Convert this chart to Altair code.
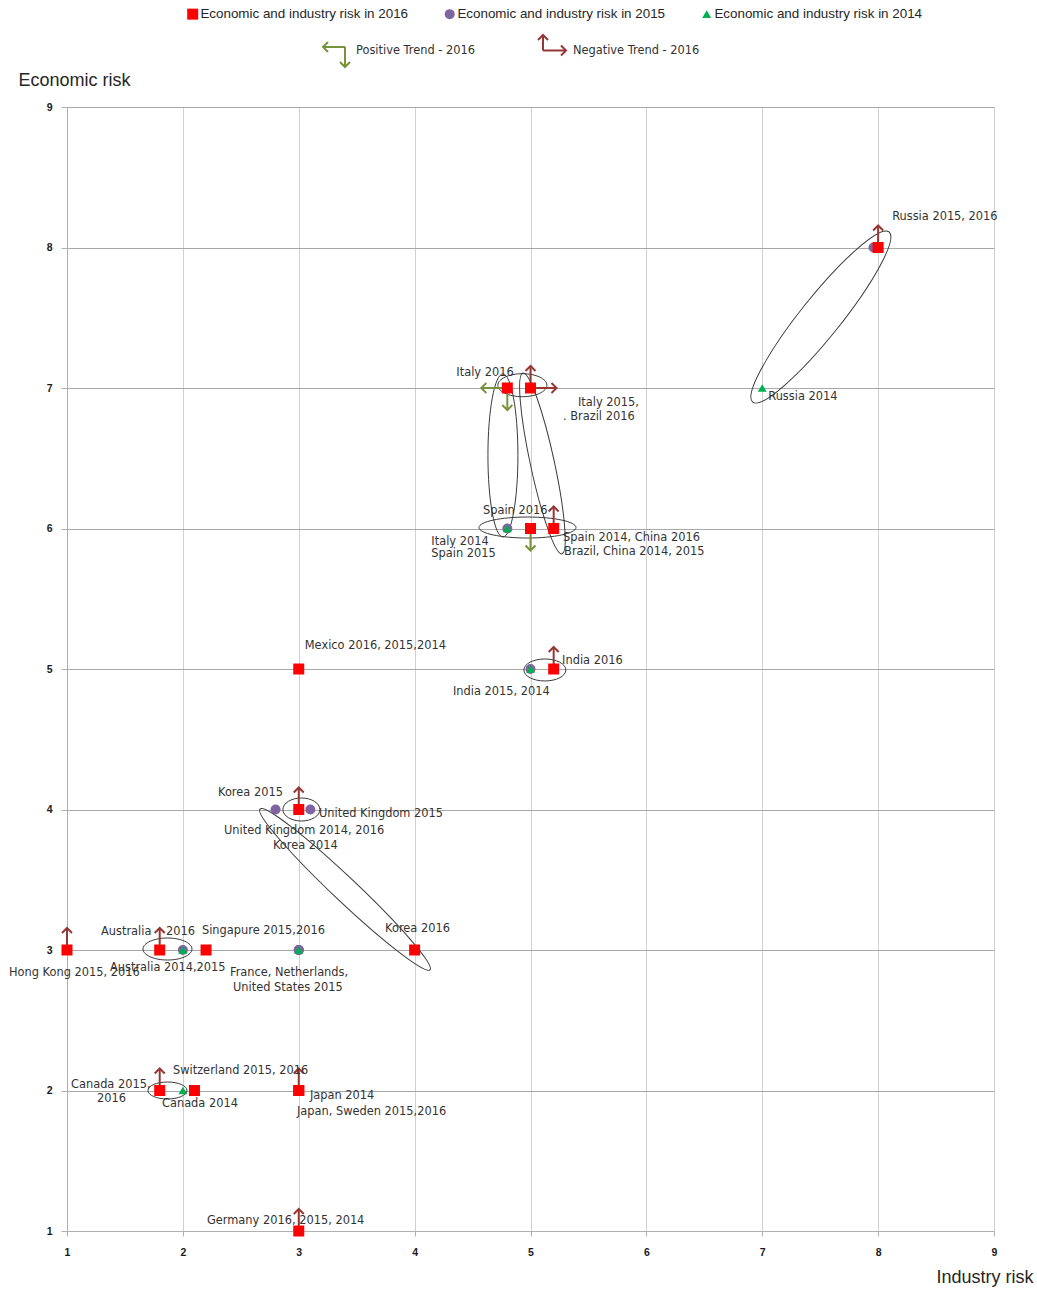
import altair as alt
import pandas as pd

# ---------------- data ----------------
S16 = "Economic and industry risk in 2016"
S15 = "Economic and industry risk in 2015"
S14 = "Economic and industry risk in 2014"

# (country, industry risk, economic risk)
risk_2016 = [
    ("Russia", 8, 8), ("Italy", 4.8, 7), ("Brazil", 5, 7), ("Spain", 5, 6),
    ("China", 5.2, 6), ("Mexico", 3, 5), ("India", 5.2, 5), ("United Kingdom", 3, 4),
    ("Korea", 4, 3), ("Hong Kong", 1, 3), ("Australia", 1.8, 3), ("Singapure", 2.2, 3),
    ("Canada", 1.8, 2), ("Switzerland", 2.1, 2), ("Japan", 3, 2), ("Sweden", 3, 2),
    ("Germany", 3, 1),
]
risk_2015 = [
    ("Russia", 7.96, 8), ("Italy", 5, 7), ("Brazil", 5.2, 6), ("China", 5.2, 6),
    ("Spain", 4.8, 6), ("Mexico", 3, 5), ("India", 5, 5), ("Korea", 2.8, 4),
    ("United Kingdom", 3.1, 4), ("France", 3, 3), ("Netherlands", 3, 3),
    ("United States", 3, 3), ("Hong Kong", 1, 3), ("Australia", 2, 3),
    ("Singapure", 2.2, 3), ("Canada", 1.8, 2), ("Switzerland", 2.1, 2),
    ("Japan", 3, 2), ("Sweden", 3, 2), ("Germany", 3, 1),
]
risk_2014 = [
    ("Russia", 7, 7), ("Italy", 4.8, 6), ("Spain", 5.2, 6), ("Brazil", 5.2, 6),
    ("China", 5.2, 6), ("Mexico", 3, 5), ("India", 5, 5), ("United Kingdom", 3, 4),
    ("Korea", 3, 4), ("France", 3, 3), ("Australia", 2, 3), ("Canada", 2, 2),
    ("Japan", 3, 2), ("Germany", 3, 1),
]

# trend arrows for 2016: (x, y, direction, kind)
trend_arrows = [
    (8, 8, "up", "neg"), (5, 7, "up", "neg"), (5, 7, "right", "neg"),
    (5.2, 6, "up", "neg"), (5.2, 5, "up", "neg"), (3, 4, "up", "neg"),
    (1, 3, "up", "neg"), (1.8, 3, "up", "neg"), (1.8, 2, "up", "neg"),
    (3, 2, "up", "neg"), (3, 1, "up", "neg"),
    (4.8, 7, "left", "pos"), (4.8, 7, "down", "pos"), (5, 6, "down", "pos"),
]

# point labels: (text, anchor x, anchor y)
label_text = [
    ("Russia 2015, 2016", 8, 8), ("Russia 2014", 7, 7), ("Italy 2016", 4.8, 7),
    ("Italy 2015,", 5, 7), (". Brazil 2016", 5, 7), ("Spain 2016", 5, 6),
    ("Italy 2014", 4.8, 6), ("Spain 2015", 4.8, 6), ("Spain 2014, China 2016", 5.2, 6),
    ("Brazil, China 2014, 2015", 5.2, 6), ("Mexico 2016, 2015,2014", 3, 5),
    ("India 2016", 5.2, 5), ("India 2015, 2014", 5, 5), ("Korea 2015", 2.8, 4),
    ("United Kingdom 2015", 3.1, 4), ("United Kingdom 2014, 2016", 3, 4),
    ("Korea 2014", 3, 4), ("Korea 2016", 4, 3), ("Australia", 1.8, 3), ("2016", 1.8, 3),
    ("Singapure 2015,2016", 2.2, 3), ("Hong Kong 2015, 2016", 1, 3),
    ("Australia 2014,2015", 2, 3), ("France, Netherlands,", 3, 3),
    ("United States 2015", 3, 3), ("Canada 2015,", 1.8, 2), ("2016", 1.8, 2),
    ("Switzerland 2015, 2016", 2.1, 2), ("Canada 2014", 2, 2), ("Japan 2014", 3, 2),
    ("Japan, Sweden 2015,2016", 3, 2), ("Germany 2016, 2015, 2014", 3, 1),
]

# ---------------- layout / style (pixels) ----------------
W, H = 927, 1124
PXX, PXY = W / 8.0, H / 8.0
label_offsets = [
    (14, -30.5), (6, 9), (-51, -15), (47.5, 15), (32.5, 29), (-47.5, -17.5),
    (-76, 13.5), (-76, 25.5), (9.4, 9.5), (10.4, 23.5), (6, -23), (8.4, -8),
    (-77.5, 23), (-57.6, -16.5), (8.7, 4.5), (-74.8, 21.5), (-25.8, 36.5),
    (-29.6, -21), (-58.7, -18), (6.3, -18), (-4.1, -19), (-58, 23), (-72.9, 18),
    (-68.8, 23), (-65.8, 38), (-88.7, -5.5), (-62.7, 8.5), (-21.5, -19.5),
    (-20.9, 13.5), (11.2, 5.5), (-1.8, 21.5), (-91.8, -10),
]
# grouping ellipses: centre (data), semi-axes a, b (px), rotation (deg)
ellipses = [
    (7.506, 7.505, 109, 20, 308.7),
    (4.93, 7.02, 24.5, 11.5, 0),
    (4.762, 6.52, 81.5, 15, 90),
    (5.103, 6.463, 92.5, 12, 77.8),
    (4.974, 6.007, 48.5, 10.5, 0),
    (5.124, 4.993, 21, 11, 0),
    (3.023, 4.0, 18.5, 11.5, 0),
    (3.399, 3.431, 117, 12, 43.4),
    (1.867, 3.007, 24.5, 11, 0),
    (1.867, 2.0, 19.5, 8.5, 0),
]

NEG = "#953735"
POS = "#77933c"
TXT = "#333333"
LBL_FONT = "DejaVu Sans"
LBL_SIZE = 11.4


def ellipse_path(r):
    k = 0.5523
    return (f"M1,0C1,{k*r:.4f} {k:.4f},{r:.4f} 0,{r:.4f}"
            f"C{-k:.4f},{r:.4f} -1,{k*r:.4f} -1,0"
            f"C-1,{-k*r:.4f} {-k:.4f},{-r:.4f} 0,{-r:.4f}"
            f"C{k:.4f},{-r:.4f} 1,{-k*r:.4f} 1,0Z")


# ---------------- frames ----------------
rows = []
for s, data in ((S15, risk_2015), (S14, risk_2014), (S16, risk_2016)):
    for c, x, y in data:
        rows.append({"country": c, "x": x, "y": y, "series": s})
pts = pd.DataFrame(rows)

arr = pd.DataFrame(trend_arrows, columns=["x", "y", "dir", "kind"])

lab = pd.DataFrame(label_text, columns=["text", "ax", "ay"])
lab["dx"] = [o[0] for o in label_offsets]
lab["dy"] = [o[1] for o in label_offsets]
lab["x"] = lab["ax"] + lab["dx"] / PXX
lab["y"] = lab["ay"] - lab["dy"] / PXY

# ---------------- scales / axes ----------------
ticks = list(range(1, 10))
xscale = alt.Scale(domain=[1, 9], nice=False, zero=False)
yscale = alt.Scale(domain=[1, 9], nice=False, zero=False)

xax = alt.Axis(values=ticks, grid=True, gridColor="#d0d0d0", domainColor="#b0b0b0",
               tickColor="#b0b0b0", tickSize=5, labelPadding=11, labelFlush=False,
               labelFont="Liberation Sans", labelFontSize=10.5, labelFontWeight="bold",
               labelColor="#1a1a1a", title="Industry risk", titleX=966, titleY=46,
               titleAlign="right", titleBaseline="middle", titleFont="Liberation Sans",
               titleFontSize=18, titleFontWeight="normal", titleColor="#262626", format="d")
yax = alt.Axis(values=ticks, grid=True, gridColor="#a8a8a8", domainColor="#b0b0b0",
               tickColor="#b0b0b0", tickSize=6, labelPadding=9, labelFlush=False,
               labelFont="Liberation Sans", labelFontSize=10.5, labelFontWeight="bold",
               labelColor="#1a1a1a", title="Economic risk", titleX=-49, titleY=-27,
               titleAngle=0, titleAlign="left", titleBaseline="middle",
               titleFont="Liberation Sans", titleFontSize=18, titleFontWeight="normal",
               titleColor="#262626", format="d")

X = alt.X("x:Q", scale=xscale, axis=xax)
Y = alt.Y("y:Q", scale=yscale, axis=yax)

# ---------------- ellipses (one layer each, shape as mark property) ----------------
ell_layers = []
for cx, cy, a, b, ang in ellipses:
    d = pd.DataFrame({"x": [cx], "y": [cy]})
    ell_layers.append(
        alt.Chart(d).mark_point(filled=False, stroke="#3a3a3a", strokeWidth=1, opacity=1,
                                shape=ellipse_path(b / a), size=(2 * a) ** 2,
                                angle=ang).encode(x=X, y=Y)
    )

# ---------------- arrows ----------------
SHAFT_V = 22
SHAFT_H = 26
CHEV = "M-1,0.5L0,-0.5L1,0.5"


def arrow_layers(direction, kind):
    d = arr[(arr["dir"] == direction) & (arr["kind"] == kind)]
    if d.empty:
        return []
    col = NEG if kind == "neg" else POS
    if direction in ("up", "down"):
        sgn = -1 if direction == "up" else 1
        shaft = alt.Chart(d).mark_rule(strokeWidth=2, color=col,
                                       y2Offset=sgn * SHAFT_V).encode(x=X, y=Y, y2="y:Q")
        head = alt.Chart(d).mark_point(shape=CHEV, filled=False, strokeWidth=2, size=100,
                                       opacity=1, color=col,
                                       yOffset=sgn * (SHAFT_V - 2.5),
                                       angle=0 if direction == "up" else 180).encode(x=X, y=Y)
    else:
        sgn = 1 if direction == "right" else -1
        shaft = alt.Chart(d).mark_rule(strokeWidth=2, color=col,
                                       x2Offset=sgn * SHAFT_H).encode(x=X, x2="x:Q", y=Y)
        head = alt.Chart(d).mark_point(shape=CHEV, filled=False, strokeWidth=2, size=100,
                                       opacity=1, color=col,
                                       xOffset=sgn * (SHAFT_H - 2.5),
                                       angle=90 if direction == "right" else 270).encode(x=X, y=Y)
    return [shaft, head]


arrow_charts = []
for dname in ("up", "down", "left", "right"):
    for kname in ("neg", "pos"):
        arrow_charts += arrow_layers(dname, kname)

# ---------------- points ----------------
legend = alt.Legend(orient="none", legendX=119, legendY=-100, direction="horizontal",
                    title=None, labelFont="Liberation Sans", labelFontSize=13.4,
                    labelColor="#262626", columnPadding=34, labelOffset=1, padding=0,
                    symbolStrokeWidth=0, labelLimit=400)
dom = [S16, S15, S14]
points = alt.Chart(pts).mark_point(filled=True, opacity=1, strokeWidth=0).encode(
    x=X, y=Y,
    color=alt.Color("series:N", scale=alt.Scale(domain=dom,
                                                range=["#ff0000", "#8064a2", "#00b050"]),
                    legend=legend),
    shape=alt.Shape("series:N", scale=alt.Scale(domain=dom,
                                                range=["square", "circle", "triangle-up"]),
                    legend=legend),
    size=alt.Size("series:N", scale=alt.Scale(domain=dom, range=[121, 80, 70]),
                  legend=legend),
)

# ---------------- labels ----------------
labels = alt.Chart(lab).mark_text(align="left", baseline="middle", font=LBL_FONT,
                                  fontSize=LBL_SIZE, color=TXT).encode(
    x=X, y=Y, text="text:N",
)

# ---------------- trend legend ----------------
one = pd.DataFrame({"k": [0]})


def lrule(x, y, x2=None, y2=None, color=POS):
    enc = dict(x=alt.value(x), y=alt.value(y))
    if x2 is not None:
        enc["x2"] = alt.value(x2)
    if y2 is not None:
        enc["y2"] = alt.value(y2)
    return alt.Chart(one).mark_rule(strokeWidth=2, color=color).encode(**enc)


def lhead(x, y, ang, color):
    return alt.Chart(one).mark_point(shape=CHEV, filled=False, strokeWidth=2, size=100,
                                     opacity=1, angle=ang, color=color).encode(
        x=alt.value(x), y=alt.value(y))


def ltext(x, y, t):
    return alt.Chart(one).mark_text(align="left", baseline="middle", font=LBL_FONT,
                                    fontSize=LBL_SIZE, color=TXT, text=t).encode(
        x=alt.value(x), y=alt.value(y))


trend_legend = [
    lrule(256, -60, x2=278), lrule(278, -60, y2=-40),
    lhead(258.5, -60, 270, POS), lhead(278, -42.5, 180, POS),
    ltext(289, -56.5, "Positive Trend - 2016"),
    lrule(476, -56.5, y2=-72, color=NEG), lrule(476, -56.5, x2=499, color=NEG),
    lhead(476, -69.5, 0, NEG), lhead(496.5, -56.5, 90, NEG),
    ltext(506, -56, "Negative Trend - 2016"),
]

chart = alt.layer(
    *ell_layers, *arrow_charts, points, labels, *trend_legend
).properties(
    width=W, height=H,
    autosize=alt.AutoSizeParams(type="none"),
    padding={"left": 67, "top": 107, "right": 43, "bottom": 58},
).configure_view(stroke=None).configure(background="white")

chart.save("out.html", embed_options={"renderer": "svg", "actions": False})
